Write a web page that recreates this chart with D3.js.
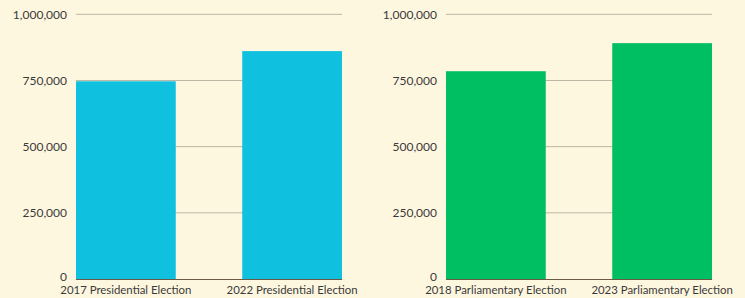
<!DOCTYPE html>
<html>
<head>
<meta charset="utf-8">
<script src="https://cdn.jsdelivr.net/npm/d3@7"></script>
<style>
  body { margin: 0; background: #fef7e0; }
  svg { display: block; }
  .tick text { font-family: Lato, sans-serif; font-size: 12px; fill: #3a3a3a; }
  .xlab .tick text { font-size: 11.4px; }
</style>
</head>
<body>
<script>
// values
const presCategories = ["2017 Presidential Election", "2022 Presidential Election"];
const presValues = [747000, 861000];
const parlCategories = ["2018 Parliamentary Election", "2023 Parliamentary Election"];
const parlValues = [785000, 891000];
const yTicks = [0, 250000, 500000, 750000, 1000000];

const svgWidth = 745, svgHeight = 298;

var svg = d3.select("body").append("svg")
  .attr("width", svgWidth)
  .attr("height", svgHeight);

svg.append("rect").attr("width", svgWidth).attr("height", svgHeight).attr("fill", "#fef7e0");

drawPanel(presCategories, presValues, 76, 342, "#0fc0df");
drawPanel(parlCategories, parlValues, 446, 712, "#00bf63");

function drawPanel(cats, vals, x0, x1, color) {
  var top = 14.3, bottom = 279;

  var x = d3.scaleBand()
    .domain(cats)
    .range([x0, x1])
    .paddingInner(0.4)
    .paddingOuter(0);

  var y = d3.scaleLinear()
    .domain([0, 1000000])
    .range([bottom, top]);

  // gridlines
  svg.append("g").selectAll("line")
    .data(yTicks.filter(t => t > 0))
    .enter().append("line")
    .attr("x1", x0).attr("x2", x1)
    .attr("y1", d => y(d)).attr("y2", d => y(d))
    .attr("stroke", "#bdb5a6")
    .attr("stroke-width", 1);

  // y axis labels
  var leftAxis = d3.axisLeft(y)
    .tickValues(yTicks)
    .tickFormat(d3.format(","))
    .tickSize(0)
    .tickPadding(9);
  svg.append("g")
    .attr("transform", `translate(${x0}, 0)`)
    .call(leftAxis)
    .call(g => g.select(".domain").remove())
    .call(g => g.selectAll(".tick text").filter(d => d === 0).attr("dy", "0.1em"));

  // bars
  svg.append("g").selectAll("rect")
    .data(vals)
    .enter().append("rect")
    .attr("x", (d, i) => x(cats[i]))
    .attr("y", d => y(d))
    .attr("width", x.bandwidth())
    .attr("height", d => y(0) - y(d))
    .attr("fill", color);

  // baseline
  svg.append("line")
    .attr("x1", x0).attr("x2", x1)
    .attr("y1", bottom + 0.5).attr("y2", bottom + 0.5)
    .attr("stroke", "#6b5a45")
    .attr("stroke-width", 1);

  // category labels
  var bottomAxis = d3.axisBottom(x).tickSize(0).tickPadding(7);
  svg.append("g")
    .attr("class", "xlab")
    .attr("transform", `translate(0, ${bottom})`)
    .call(bottomAxis)
    .call(g => g.select(".domain").remove());
}
</script>
</body>
</html>
